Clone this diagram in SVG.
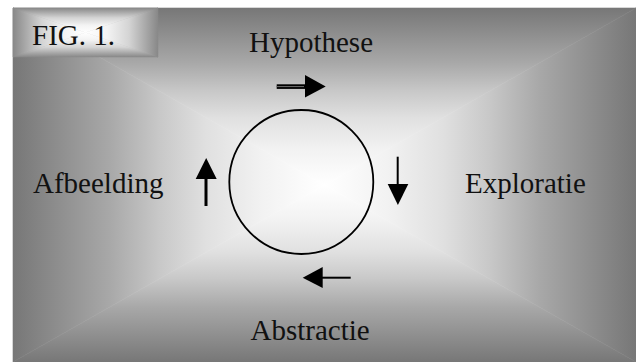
<svg xmlns="http://www.w3.org/2000/svg" width="636" height="362" viewBox="0 0 636 362">
<style>
.lbl{font-family:"Liberation Serif","Times New Roman",serif;font-size:29px;fill:#111}
.shaft{stroke:#000;fill:none}
.head{fill:#000;stroke:none}
</style>
<defs>
<linearGradient id="gL" gradientUnits="userSpaceOnUse" x1="13" y1="0" x2="324.5" y2="0">
<stop offset="0" stop-color="#777"/><stop offset="0.31" stop-color="#a8a8a8"/><stop offset="0.47" stop-color="#c8c8c8"/><stop offset="0.62" stop-color="#e0e0e0"/><stop offset="0.8" stop-color="#f2f2f2"/><stop offset="1" stop-color="#fff"/>
</linearGradient>
<linearGradient id="gR" href="#gL" gradientUnits="userSpaceOnUse" x1="636" y1="0" x2="324.5" y2="0"/>
<linearGradient id="gT" href="#gL" gradientUnits="userSpaceOnUse" x1="0" y1="8" x2="0" y2="185"/>
<linearGradient id="gB" href="#gL" gradientUnits="userSpaceOnUse" x1="0" y1="362" x2="0" y2="185"/>
<linearGradient id="fL" gradientUnits="userSpaceOnUse" x1="13" y1="0" x2="85.5" y2="0">
<stop offset="0" stop-color="#888"/><stop offset="0.4" stop-color="#d4d4d4"/><stop offset="0.7" stop-color="#f3f3f3"/><stop offset="1" stop-color="#fff"/>
</linearGradient>
<linearGradient id="fR" href="#fL" gradientUnits="userSpaceOnUse" x1="158" y1="0" x2="85.5" y2="0"/>
<linearGradient id="fT" href="#fL" gradientUnits="userSpaceOnUse" x1="0" y1="8" x2="0" y2="32.5"/>
<linearGradient id="fB" href="#fL" gradientUnits="userSpaceOnUse" x1="0" y1="57" x2="0" y2="32.5"/>
</defs>
<rect width="636" height="362" fill="#fff"/>
<g id="background">
<polygon points="13,8 324.5,185 13,362" fill="url(#gL)" stroke="url(#gL)" stroke-width="0.6"/>
<polygon points="636,8 324.5,185 636,362" fill="url(#gR)" stroke="url(#gR)" stroke-width="0.6"/>
<polygon points="13,8 636,8 324.5,185" fill="url(#gT)" stroke="url(#gT)" stroke-width="0.6"/>
<polygon points="13,362 636,362 324.5,185" fill="url(#gB)" stroke="url(#gB)" stroke-width="0.6"/>
</g>
<g id="fig-label">
<polygon points="13,8 85.5,32.5 13,57" fill="url(#fL)" stroke="url(#fL)" stroke-width="0.5"/>
<polygon points="158,8 85.5,32.5 158,57" fill="url(#fR)" stroke="url(#fR)" stroke-width="0.5"/>
<polygon points="13,8 158,8 85.5,32.5" fill="url(#fT)" stroke="url(#fT)" stroke-width="0.5"/>
<polygon points="13,57 158,57 85.5,32.5" fill="url(#fB)" stroke="url(#fB)" stroke-width="0.5"/>
<text class="lbl" x="32" y="45">FIG. 1.</text>
</g>
<g id="cycle">
<circle cx="301.3" cy="182" r="72" fill="none" stroke="#000" stroke-width="1.8"/>
</g>
<g id="hypothese"><text class="lbl" x="249" y="52">Hypothese</text></g>
<g id="exploratie"><text class="lbl" x="465" y="193">Exploratie</text></g>
<g id="abstractie"><text class="lbl" x="250.5" y="340">Abstractie</text></g>
<g id="afbeelding"><text class="lbl" x="33" y="193">Afbeelding</text></g>
<g id="connectors">
<g id="arrow-top">
<line class="shaft" x1="276.7" y1="86.6" x2="306" y2="86.6" stroke-width="4.6"/>
<line x1="276.7" y1="86.6" x2="304" y2="86.6" stroke="#707070" stroke-width="1"/>
<polygon class="head" points="305,75 325.7,86.4 305,97.5"/>
</g>
<g id="arrow-right">
<line class="shaft" x1="397.7" y1="156.7" x2="397.7" y2="185" stroke-width="2"/>
<polygon class="head" points="387.7,184 408.3,184 397.9,205"/>
</g>
<g id="arrow-bottom">
<line class="shaft" x1="321.7" y1="277.7" x2="350.7" y2="277.7" stroke-width="2"/>
<polygon class="head" points="322.7,267 322.7,288 302.7,277.7"/>
</g>
<g id="arrow-left">
<line class="shaft" x1="206" y1="206" x2="206" y2="178" stroke-width="3"/>
<polygon class="head" points="195.7,179 216.7,179 206.2,158"/>
</g>
</g>
</svg>
